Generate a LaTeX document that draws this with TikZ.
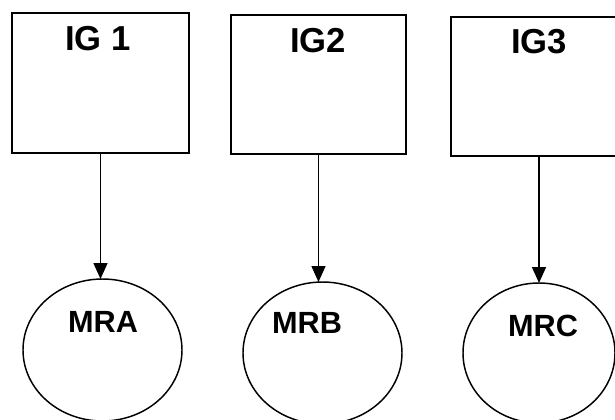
\documentclass[tikz,border=0pt]{standalone}
\usepackage{fontspec}
\setmainfont{Liberation Sans}
\usetikzlibrary{arrows.meta,shapes.geometric}
\begin{document}
\begin{tikzpicture}[x=0.75pt,y=-0.75pt,
  igbox/.style={draw,line width=1.5pt,rectangle,inner sep=0pt,outer sep=0pt},
  mrell/.style={draw,line width=1.1pt,ellipse,inner sep=0pt,outer sep=0pt,minimum width=119.25pt,minimum height=106.5pt},
  igtext/.style={font=\fontsize{26}{30}\selectfont\bfseries,anchor=base,inner sep=0pt},
  mrtext/.style={font=\fontsize{23}{27}\selectfont\bfseries,anchor=base,inner sep=0pt},
  conn/.style={line width=1.1pt,-{Triangle[length=12pt,width=10.5pt]}}]
\useasboundingbox (0,0) rectangle (615,419);
\clip (0,0) rectangle (615,419);
% boxes
\node[igbox,minimum width=132.75pt,minimum height=105pt] (b1) at (100.5,83) {};
\node[igbox,minimum width=131.25pt,minimum height=104.25pt] (b2) at (318.5,84.5) {};
\node[igbox,minimum width=132pt,minimum height=104.25pt] (b3) at (539,86.5) {};
\node[igtext] (t1) at (98,50) {IG 1};
\node[igtext] (t2) at (318,52) {IG2};
\node[igtext] (t3) at (539,53) {IG3};
% ellipses
\node[mrell] (e1) at (102.5,350) {};
\node[mrell] (e2) at (322.5,353) {};
\node[mrell,minimum width=114pt,minimum height=105pt] (e3) at (539,353) {};
\node[mrtext] (m1) at (103,332) {MRA};
\node[mrtext] (m2) at (307,333) {MRB};
\node[mrtext] (m3) at (543,336) {MRC};
% connectors
\draw[conn] (b1.south) -- (b1.south |- e1.north);
\draw[conn] (b2.south) -- (b2.south |- e2.north);
\draw[conn] (b3.south) -- (b3.south |- e3.north);
\end{tikzpicture}
\end{document}
